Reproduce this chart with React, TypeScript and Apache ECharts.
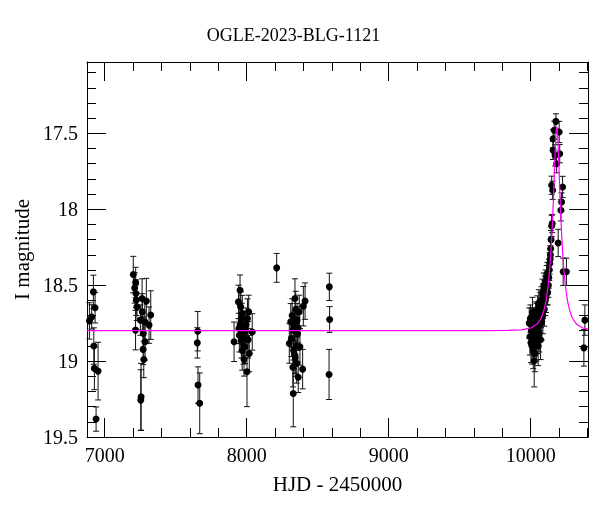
import React, { useEffect, useRef } from "react";
import * as echarts from "echarts";

const TITLE = "OGLE-2023-BLG-1121";
const X_NAME = "HJD - 2450000";
const Y_NAME = "I magnitude";

const X_MIN = 6875;
const X_MAX = 10404;
const Y_MIN = 17.03;
const Y_MAX = 19.5;

const X_MAJOR = [7000, 8000, 9000, 10000];
const X_MINOR = [7200, 7400, 7600, 7800, 8200, 8400, 8600, 8800, 9200, 9400, 9600, 9800, 10200, 10400];
const Y_MAJOR = [17.5, 18, 18.5, 19, 19.5];
const Y_MINOR = [17.1, 17.2, 17.3, 17.4, 17.6, 17.7, 17.8, 17.9, 18.1, 18.2, 18.3, 18.4, 18.6, 18.7, 18.8, 18.9, 19.1, 19.2, 19.3, 19.4];

// Observations: HJD-2450000, I magnitude, error
const HJD = [
  6892, 6908, 6920, 6932, 6923, 6927, 6953, 6939,
  7201, 7218, 7211, 7220, 7222, 7227, 7263, 7293, 7265, 7251, 7282, 7324, 7312, 7217, 7272, 7284, 7270, 7275, 7256, 7254,
  7655, 7652, 7657, 7669,
  7953, 7942, 7958, 7969, 8014, 7965, 7953, 7945, 7911, 8039, 7981, 7988, 8018, 7981, 8002, 7960, 7972, 7975, 7962, 7990, 7995, 8005, 7948, 7978, 8010, 7968,
  8211,
  8340, 8411, 8399, 8370, 8310, 8352, 8328, 8300, 8375, 8340, 8352, 8394, 8363, 8328, 8320, 8345, 8335, 8358, 8315, 8348, 8330, 8362, 8342, 8325, 8355,
  8582, 8584, 8580,
  9990, 9995, 9998, 10002, 10005, 10008, 10010, 10013, 10015, 10018, 10020, 10022, 10025, 10027, 10030, 10032, 10035, 10037, 10040, 10042,
  10045, 10048, 10050, 10053, 10055, 10058, 10060, 10063, 10066, 10068, 10070, 10073, 10076, 10078, 10080, 10083, 10086, 10088, 10090, 10093,
  10096, 10098, 10100, 10103, 10106, 10108, 10110, 10113, 10116, 10118,
  10120, 10125, 10128, 10131, 10134, 10137, 10139, 10141, 10144,
  10178, 10166, 10158, 10201, 10205, 10158, 10172, 10183, 10148, 10155, 10225, 10218, 10213, 10152, 10148, 10194, 10229, 10252,
  10382, 10375,
];
const MAG = [
  18.735, 18.709, 18.544, 18.649, 18.901, 19.048, 19.066, 19.382,
  18.43, 18.482, 18.518, 18.555, 18.599, 18.643, 18.588, 18.605, 18.676, 18.73, 18.741, 18.697, 18.763, 18.796, 18.818, 18.873, 18.923, 18.989, 19.235, 19.257,
  18.803, 18.88, 19.158, 19.278,
  18.533, 18.61, 18.643, 18.687, 18.676, 18.719, 18.763, 18.785, 18.873, 18.808, 18.841, 18.906, 18.95, 18.989, 19.07, 18.74, 18.78, 18.82, 18.86, 18.8, 18.76, 18.72, 18.83, 18.9, 18.86, 18.93,
  18.386,
  18.588, 18.605, 18.638, 18.676, 18.741, 18.741, 18.796, 18.884, 18.906, 18.961, 19.015, 19.053, 19.107, 19.213, 18.7, 18.66, 18.77, 18.82, 18.85, 18.9, 18.93, 18.78, 18.98, 19.04, 18.73,
  18.511, 18.726, 19.088,
  18.75, 18.84, 18.72, 18.88, 18.8, 18.76, 18.9, 18.68, 18.83, 18.93, 18.79, 18.74, 19.0, 18.86, 18.95, 18.81, 18.7, 18.77, 18.88, 18.72,
  18.84, 18.66, 18.78, 18.9, 18.74, 18.62, 18.82, 18.7, 18.76, 18.64, 18.86, 18.68, 18.6, 18.74, 18.66, 18.55, 18.7, 18.62, 18.58, 18.5,
  18.66, 18.56, 18.52, 18.6, 18.48, 18.58, 18.5, 18.45, 18.54, 18.42,
  18.55, 18.5, 18.45, 18.4, 18.357, 18.33, 18.3, 18.26, 18.2,
  17.421, 17.48, 17.535, 17.491, 17.634, 17.612, 17.645, 17.7, 17.842, 17.875, 17.853, 17.952, 18.007, 18.094, 18.11, 18.222, 18.412, 18.412,
  18.73, 18.913,
];
const ERR = [
  0.12, 0.08, 0.11, 0.1, 0.12, 0.14, 0.19, 0.08,
  0.12, 0.1, 0.1, 0.09, 0.1, 0.09, 0.13, 0.15, 0.12, 0.1, 0.14, 0.16, 0.12, 0.13, 0.11, 0.12, 0.1, 0.12, 0.22, 0.2,
  0.13, 0.1, 0.12, 0.2,
  0.1, 0.11, 0.1, 0.12, 0.11, 0.1, 0.12, 0.1, 0.13, 0.12, 0.12, 0.11, 0.12, 0.11, 0.23, 0.1, 0.11, 0.12, 0.12, 0.1, 0.11, 0.13, 0.11, 0.12, 0.12, 0.13,
  0.095,
  0.13, 0.12, 0.13, 0.11, 0.12, 0.1, 0.11, 0.13, 0.12, 0.12, 0.13, 0.13, 0.1, 0.22, 0.11, 0.12, 0.1, 0.11, 0.12, 0.11, 0.12, 0.1, 0.12, 0.13, 0.11,
  0.09, 0.085, 0.165,
  0.1, 0.12, 0.09, 0.13, 0.1, 0.11, 0.12, 0.1, 0.11, 0.12, 0.1, 0.09, 0.17, 0.11, 0.12, 0.1, 0.09, 0.1, 0.12, 0.1,
  0.11, 0.09, 0.1, 0.13, 0.1, 0.09, 0.12, 0.1, 0.11, 0.09, 0.13, 0.1, 0.09, 0.12, 0.1, 0.09, 0.12, 0.1, 0.09, 0.08,
  0.11, 0.09, 0.08, 0.1, 0.08, 0.1, 0.08, 0.08, 0.09, 0.07,
  0.08, 0.08, 0.07, 0.07, 0.07, 0.07, 0.06, 0.06, 0.06,
  0.05, 0.06, 0.06, 0.07, 0.06, 0.06, 0.07, 0.06, 0.06, 0.06, 0.07, 0.06, 0.07, 0.06, 0.07, 0.09, 0.09, 0.09,
  0.1, 0.12,
];

// Model light curve
const MODEL_HJD = [
  6875, 9684, 9834, 9934, 10004, 10044, 10074, 10094, 10109, 10124, 10134, 10139, 10144, 10149, 10154, 10159, 10164, 10169, 10174, 10176.5, 10179, 10181.5,
  10184,
  10186.5, 10189, 10191.5, 10194, 10199, 10204, 10209, 10214, 10219, 10224, 10229, 10234, 10244, 10259, 10274, 10294, 10324, 10364, 10404,
];
const MODEL_MAG = [
  18.8, 18.8, 18.798, 18.794, 18.781, 18.758, 18.718, 18.665, 18.6, 18.497, 18.397, 18.334, 18.26, 18.176, 18.078, 17.967, 17.843, 17.713, 17.589, 17.536, 17.494, 17.467,
  17.457,
  17.467, 17.494, 17.536, 17.589, 17.713, 17.843, 17.967, 18.078, 18.176, 18.26, 18.334, 18.397, 18.497, 18.6, 18.665, 18.718, 18.758, 18.781, 18.79,
];

const FONT = "'Liberation Serif', 'DejaVu Serif', serif";
const INK = "#000";

export default function App() {
  const ref = useRef<HTMLDivElement>(null);

  useEffect(() => {
    if (!ref.current) return;
    const chart = echarts.init(ref.current, null, { renderer: "svg" });

    const obs = HJD.map((t, i) => [t, MAG[i], ERR[i]]);
    const model = MODEL_HJD.map((t, i) => [t, MODEL_MAG[i]]);

    const lineStyle = { color: INK, width: 1 };
    const xBase = { type: "value", min: X_MIN, max: X_MAX, splitLine: { show: false } } as any;
    const yBase = { type: "value", min: Y_MIN, max: Y_MAX, inverse: true, splitLine: { show: false } } as any;
    const plain = (v: number) => String(v);

    const option: any = {
      animation: false,
      grid: { left: 87, top: 62, right: 12, bottom: 75, containLabel: false },
      graphic: [
        {
          type: "text",
          x: 293.5,
          y: 35,
          style: {
            text: TITLE,
            fontFamily: FONT,
            fontSize: 18,
            fill: INK,
            textAlign: "center",
            textVerticalAlign: "middle",
          },
        },
      ],
      xAxis: [
        {
          ...xBase,
          position: "bottom",
          name: X_NAME,
          nameLocation: "middle",
          nameGap: 36,
          nameTextStyle: { fontFamily: FONT, fontSize: 21, color: INK },
          axisLine: { show: true, lineStyle },
          axisTick: { show: true, inside: true, length: 19, customValues: X_MAJOR, lineStyle },
          axisLabel: { show: true, customValues: X_MAJOR, margin: 8, fontFamily: FONT, fontSize: 20, color: INK, formatter: plain },
        },
        {
          ...xBase,
          position: "bottom",
          axisLine: { show: false },
          axisTick: { show: true, inside: true, length: 9, customValues: X_MINOR, lineStyle },
          axisLabel: { show: false },
        },
        {
          ...xBase,
          position: "top",
          axisLine: { show: true, lineStyle },
          axisTick: { show: true, inside: true, length: 19, customValues: X_MAJOR, lineStyle },
          axisLabel: { show: false },
        },
        {
          ...xBase,
          position: "top",
          axisLine: { show: false },
          axisTick: { show: true, inside: true, length: 9, customValues: X_MINOR, lineStyle },
          axisLabel: { show: false },
        },
      ],
      yAxis: [
        {
          ...yBase,
          position: "left",
          name: Y_NAME,
          nameLocation: "middle",
          nameGap: 55,
          nameRotate: 90,
          nameTextStyle: { fontFamily: FONT, fontSize: 21, color: INK },
          axisLine: { show: true, lineStyle },
          axisTick: { show: true, inside: true, length: 19, customValues: Y_MAJOR, lineStyle },
          axisLabel: { show: true, customValues: Y_MAJOR, margin: 9, fontFamily: FONT, fontSize: 20, color: INK, formatter: plain },
        },
        {
          ...yBase,
          position: "left",
          axisLine: { show: false },
          axisTick: { show: true, inside: true, length: 9, customValues: Y_MINOR, lineStyle },
          axisLabel: { show: false },
        },
        {
          ...yBase,
          position: "right",
          axisLine: { show: true, lineStyle },
          axisTick: { show: true, inside: true, length: 19, customValues: Y_MAJOR, lineStyle },
          axisLabel: { show: false },
        },
        {
          ...yBase,
          position: "right",
          axisLine: { show: false },
          axisTick: { show: true, inside: true, length: 9, customValues: Y_MINOR, lineStyle },
          axisLabel: { show: false },
        },
      ],
      series: [
        {
          type: "custom",
          xAxisIndex: 0,
          yAxisIndex: 0,
          data: obs,
          encode: { x: 0, y: 1 },
          z: 2,
          renderItem: (params: any, api: any) => {
            const x = api.value(0);
            const y = api.value(1);
            const e = api.value(2);
            const top = api.coord([x, y - e]);
            const bot = api.coord([x, y + e]);
            const c = 3;
            const style = { stroke: "#111", lineWidth: 1 };
            return {
              type: "group",
              children: [
                { type: "line", shape: { x1: top[0], y1: top[1], x2: bot[0], y2: bot[1] }, style },
                { type: "line", shape: { x1: top[0] - c, y1: top[1], x2: top[0] + c, y2: top[1] }, style },
                { type: "line", shape: { x1: bot[0] - c, y1: bot[1], x2: bot[0] + c, y2: bot[1] }, style },
              ],
            };
          },
        },
        {
          type: "scatter",
          xAxisIndex: 0,
          yAxisIndex: 0,
          data: obs.map((d) => [d[0], d[1]]),
          symbol: "circle",
          symbolSize: 7,
          itemStyle: { color: "#000", opacity: 1 },
          z: 3,
        },
        {
          type: "line",
          xAxisIndex: 0,
          yAxisIndex: 0,
          data: model,
          showSymbol: false,
          symbol: "none",
          lineStyle: { color: "#ff00ff", width: 1.2 },
          z: 4,
        },
      ],
    };

    chart.setOption(option);
    return () => chart.dispose();
  }, []);

  return <div ref={ref} style={{ position: "fixed", left: 0, top: 0, width: 600, height: 512 }} />;
}
